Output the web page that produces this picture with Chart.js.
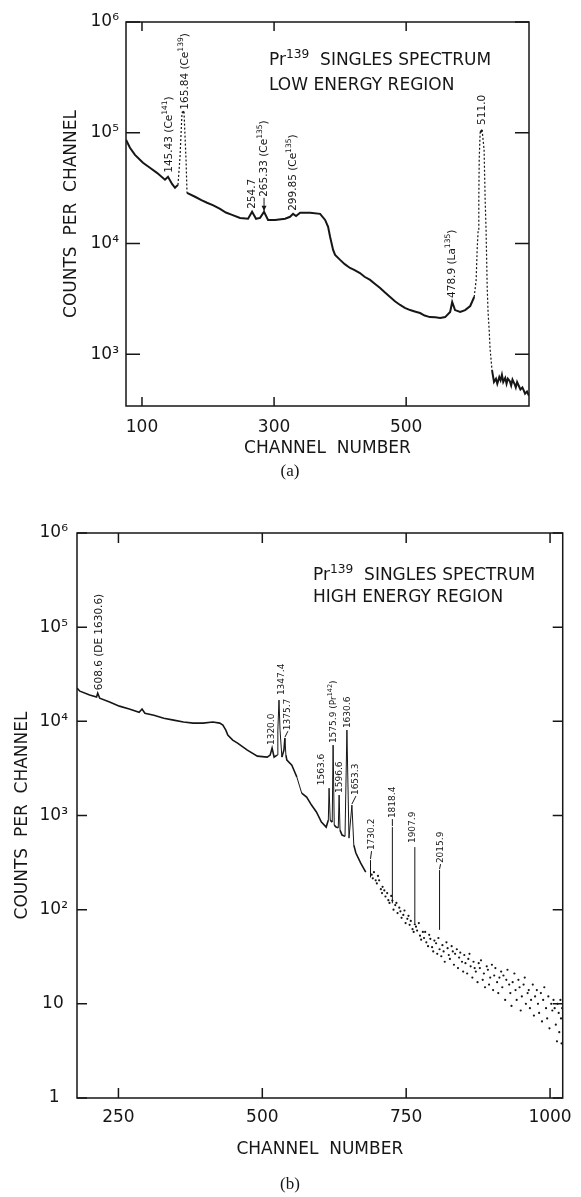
<!DOCTYPE html>
<html>
<head>
<meta charset="utf-8">
<script src="https://cdn.jsdelivr.net/npm/chart.js@4.4.1/dist/chart.umd.min.js"></script>
<style>
  html, body { margin: 0; padding: 0; background: #fff; }
  #wrap { position: relative; width: 581px; height: 1197px; }
  #cA { position: absolute; left: 0; top: 0; }
  #cB { position: absolute; left: 0; top: 490px; }
</style>
</head>
<body>
<div id="wrap">
  <canvas id="cA" width="581" height="490"></canvas>
  <canvas id="cB" width="581" height="707"></canvas>
</div>
<script>
// ---- (a) low energy region ----
const chA = [75.8, 81.8, 89.4, 101.5, 112, 122.7, 134.8, 139.4, 145.5, 150, 154.5, 157.6, 160.6, 163.6, 166.7, 168.2,
  180.3, 190, 198.5, 208, 218.2, 227, 236.4, 248.5, 260.6, 266.7, 272.7, 278.8, 284.8, 290.9, 301.5, 316.7, 324.2,
  328.8, 333.3, 339.4, 354.5, 369.7, 377.3, 381.8, 384.8, 389.4, 392.4, 400, 407, 415, 422, 430, 437, 445.4, 452,
  460.6, 468, 475.7, 483, 490.9, 498, 506, 513, 521, 528, 536, 544, 551.5, 559, 566.6, 569.7, 574, 581.8, 589.3,
  597, 603, 606, 607.5, 609, 610, 610.6, 612, 615, 618, 619.6, 621, 622.7, 624, 625.7, 627, 630, 633, 636, 638,
  641, 643, 645, 647, 650, 652, 654, 657, 659, 661, 664, 666, 668, 671, 673, 676, 678, 680, 683, 686];
const ctA = [86500, 73100, 63100, 53500, 48200, 43400, 37600, 40000, 34500, 31800, 33800, 60700, 152000, 155000, 57000, 28600,
  26400, 24600, 23300, 22100, 20500, 19000, 18100, 17000, 16700, 19300, 16700, 17000, 19300, 16300, 16300, 16700, 17400,
  18500, 17700, 18900, 18900, 18500, 16300, 14100, 11500, 8740, 7870, 7100, 6500, 6000, 5750, 5400, 5000, 4680, 4350,
  3960, 3600, 3280, 3000, 2780, 2620, 2500, 2430, 2350, 2230, 2160, 2150, 2120, 2160, 2400, 2960, 2500, 2400, 2500,
  2720, 3280, 4680, 8740, 13200, 24800, 57000, 100000, 106000, 70200, 24800, 13200, 4040, 2400, 1650, 1130, 716, 560, 600, 540,
  620, 580, 650, 560, 610, 540, 600, 570, 520, 590, 540, 500, 560, 510, 480, 500, 470, 440, 460, 420];

const peakChA = [139.4, 163.6, 266.7, 284.8, 328.8, 569.7, 615];
const peakCtA = [40000, 155000, 19300, 19300, 18500, 2960, 106000];
const peakTextA = ['145.43 (Ce^{141})', '165.84 (Ce^{139})', '254.7', '265.33 (Ce^{135})', '299.85 (Ce^{135})', '478.9 (La^{135})', '511.0'];

const xTicksA = [100, 300, 500];
const yTicksA = [1e3, 1e4, 1e5, 1e6];
const yLabelsA = ['10³', '10⁴', '10⁵', '10⁶'];

// ---- (b) high energy region ----
const chB = [178, 183, 200, 212, 214, 217.5, 234.6, 251.7, 268.8, 286, 291, 296, 311.6, 328.8, 345.9, 363, 380, 397, 414, 426,
  431.5, 436.6, 440, 448.6, 457, 474, 491.4, 508.5, 513.6, 517, 520.5, 525.6, 527, 529, 530.8, 534, 537.6, 539.3, 541, 542.7,
  551.3, 560, 568.4, 577, 585.5, 594, 602.7, 611, 614.7, 616, 618, 621.5, 623, 625, 628, 632, 633.5, 635, 638.6, 643.7,
  647, 650.6, 655.7, 659, 662.6, 671, 679.7];
const ctB = [22500, 20900, 19000, 18100, 19900, 17600, 16000, 14500, 13500, 12500, 13500, 12200, 11600, 10800, 10300, 9820, 9580, 9580, 9820, 9580,
  9120, 8070, 7140, 6310, 5870, 4950, 4270, 4170, 4380, 5200, 4170, 4380, 8070, 16800, 8070, 4170, 4950, 6630, 4380, 3870,
  3430, 2560, 1730, 1570, 1290, 1090, 851, 753, 893, 1950, 893, 851, 5590, 791, 753, 740, 1650, 700, 620, 600,
  8070, 575, 1290, 485, 400, 312, 250];

const spikeChB = [688, 726, 765, 808];
const spikeTopB = [336, 753, 462, 263];
const spikeBaseB = [220, 117, 72, 61];

const tailChB = [690, 692, 694, 697, 699, 701, 703, 706, 708, 709, 712, 714, 717, 719, 721, 724, 726, 728, 731, 733,
  735, 738, 740, 742, 745, 747, 749, 752, 754, 756, 758, 761, 763, 765, 767, 769, 772, 774, 776, 779,
  781, 783, 785, 788, 790, 792, 795, 797, 799, 802, 804, 806, 808, 811, 813, 815, 817, 820, 822, 824,
  826, 829, 831, 833, 835, 838, 840, 842, 844, 847, 849, 851, 853, 856, 858, 860, 862, 865, 867, 869,
  871, 874, 876, 878, 880, 883, 885, 887, 890, 892, 894, 896, 899, 901, 903, 905, 908, 910, 912, 915,
  917, 919, 922, 924, 926, 929, 931, 933, 935, 938, 940, 942, 945, 947, 949, 951, 954, 956, 958, 961,
  963, 965, 967, 970, 972, 974, 977, 979, 981, 984, 986, 988, 990, 993, 995, 997, 999, 1002, 1004, 1006,
  1008, 1010, 1012, 1013, 1015, 1016, 1018, 1019, 1020, 1021];
const tailCtB = [235, 215, 250, 205, 190, 228, 205, 165, 150, 175, 160, 138, 150, 126, 118, 140, 125, 100, 112, 118,
  92, 105, 96, 82, 88, 98, 72, 80, 86, 69, 76, 62, 58, 70, 66, 60, 72, 53, 48, 58,
  50, 58, 45, 41, 54, 49, 40, 36, 47, 44, 34, 50, 38, 32, 42, 36, 28, 45, 39, 33,
  30, 41, 36, 26, 34, 38, 24, 31, 35, 28, 22, 33, 27, 21, 30, 34, 25, 19, 28, 24,
  22, 17, 27, 24, 29, 18, 21, 15, 25, 23, 16, 19, 26, 14, 20, 24, 17, 13, 19, 22,
  15, 20, 11, 18, 23, 16, 13, 9.5, 17, 21, 14, 11, 18, 15, 8.5, 12, 16, 19, 10, 13,
  14, 9, 11, 16, 7.5, 12, 14, 10, 8, 13, 6.5, 11, 15, 9, 7, 12, 5.5, 10, 8.5, 11,
  9, 6, 4, 10, 8, 5, 11, 7, 3.8, 9];

const peakChB = [214, 517, 529, 539.3, 616, 623, 633.5, 647, 655.7, 688, 726, 765, 808];
const peakCtB = [19900, 5200, 16800, 6630, 1950, 5590, 1650, 8070, 1290, 336, 753, 462, 263];
const peakTextB = ['608.6 (DE 1630.6)', '1320.0', '1347.4', '1375.7', '1563.6', '1575.9 (Pr^{142})', '1596.6',
  '1630.6', '1653.3', '1730.2', '1818.4', '1907.9', '2015.9'];

const xTicksB = [250, 500, 750, 1000];
const yTicksB = [1, 10, 1e2, 1e3, 1e4, 1e5, 1e6];
const yLabelsB = ['1\u2002', '10\u2005', '10²', '10³', '10⁴', '10⁵', '10⁶'];

const ink = '#161616';
const sans = '"DejaVu Sans", sans-serif';

// text with ^{...} superscripts, drawn from (x0, y0) along the current x direction
function richText(ctx, str, size, x0, y0) {
  const parts = [];
  const re = /\^\{([^}]*)\}/g;
  let last = 0, m;
  while ((m = re.exec(str))) {
    if (m.index > last) parts.push([str.slice(last, m.index), false]);
    parts.push([m[1], true]);
    last = re.lastIndex;
  }
  if (last < str.length) parts.push([str.slice(last), false]);
  let x = x0;
  parts.forEach(([t, sup]) => {
    ctx.font = (sup ? size * 0.72 : size) + 'px ' + sans;
    ctx.fillText(t, x, sup ? y0 - size * 0.42 : y0);
    x += ctx.measureText(t).width;
  });
}

function decorations(cfg) {
  return {
    id: 'decor',
    afterDatasetsDraw(chart) {
      const { ctx, chartArea: a, scales: { x, y } } = chart;
      ctx.save();
      ctx.strokeStyle = ink;
      ctx.fillStyle = ink;
      ctx.lineWidth = 1.5;
      ctx.strokeRect(a.left, a.top, a.right - a.left, a.bottom - a.top);
      ctx.beginPath();
      cfg.xTicks.forEach(v => {
        const px = x.getPixelForValue(v);
        ctx.moveTo(px, a.bottom); ctx.lineTo(px, a.bottom - cfg.xLen);
        ctx.moveTo(px, a.top); ctx.lineTo(px, a.top + cfg.xLen);
      });
      cfg.yTicks.forEach(v => {
        const py = y.getPixelForValue(v);
        ctx.moveTo(a.left, py); ctx.lineTo(a.left + cfg.yLen, py);
        ctx.moveTo(a.right, py); ctx.lineTo(a.right - cfg.yLen, py);
      });
      ctx.stroke();

      // rotated peak labels
      ctx.textAlign = 'left';
      ctx.textBaseline = 'middle';
      cfg.peakCh.forEach((c, i) => {
        const px = x.getPixelForValue(c);
        const py = y.getPixelForValue(cfg.peakCt[i]);
        const gap = cfg.gap[i];
        const lx = px + cfg.dx[i];
        if (gap >= 7) {
          ctx.lineWidth = 1;
          ctx.beginPath();
          ctx.moveTo(px, py - 1);
          ctx.lineTo(lx, py - gap + 1);
          ctx.stroke();
        }
        if (gap >= 12) {
          ctx.beginPath();
          ctx.moveTo(px - 2.5, py - 6);
          ctx.lineTo(px + 2.5, py - 6);
          ctx.lineTo(px, py - 1);
          ctx.closePath();
          ctx.fill();
        }
        ctx.save();
        ctx.translate(lx, py - gap);
        ctx.rotate(-Math.PI / 2);
        richText(ctx, cfg.peakText[i], cfg.size[i], 0, 0);
        ctx.restore();
      });

      // in-plot title
      ctx.textBaseline = 'alphabetic';
      cfg.title.forEach((t, i) => richText(ctx, t, 17, a.left + cfg.titleX, a.top + cfg.titleY[i]));

      // panel caption
      ctx.font = '17px "Liberation Serif", serif';
      ctx.textAlign = 'center';
      ctx.textBaseline = 'middle';
      ctx.fillText(cfg.caption, cfg.capX, cfg.capY);
      ctx.restore();
    }
  };
}

function steepSeg(lim, dash, width) {
  const steep = c => Math.abs(Math.log10(c.p1.parsed.y / c.p0.parsed.y)) > lim;
  return {
    borderDash: c => steep(c) ? dash : undefined,
    borderWidth: c => steep(c) ? width : undefined
  };
}

function xAxis(min, max, ticks, height, pad, titlePad) {
  return {
    type: 'linear', min: min, max: max,
    afterBuildTicks: s => { s.ticks = ticks.map(v => ({ value: v })); },
    afterFit: s => { s.height = height; },
    grid: { display: false, drawTicks: false }, border: { display: false },
    ticks: {
      padding: pad, color: ink, font: { family: sans, size: 17 }, maxRotation: 0, autoSkip: false,
      callback: v => String(v)
    },
    title: { display: true, text: 'CHANNEL  NUMBER', color: ink, font: { family: sans, size: 17 }, padding: { top: 0, bottom: titlePad } }
  };
}

function yAxis(min, max, ticks, labels, width, pad, titlePad) {
  return {
    type: 'logarithmic', min: min, max: max,
    afterBuildTicks: s => { s.ticks = ticks.map(v => ({ value: v })); },
    afterFit: s => { s.width = width; },
    grid: { display: false, drawTicks: false }, border: { display: false },
    ticks: {
      padding: pad, color: ink, font: { family: sans, size: 17 }, autoSkip: false,
      callback: v => labels[ticks.indexOf(v)] ?? ''
    },
    title: { display: true, text: 'COUNTS  PER  CHANNEL', color: ink, font: { family: sans, size: 17 }, padding: { top: titlePad, bottom: 0 } }
  };
}

const common = {
  responsive: false, animation: false, events: [],
  plugins: { legend: { display: false }, tooltip: { enabled: false } }
};

new Chart(document.getElementById('cA'), {
  type: 'scatter',
  data: {
    datasets: [{
      data: chA.map((c, i) => ({ x: c, y: ctA[i] })),
      showLine: true, pointRadius: 0, borderColor: ink, borderWidth: 2,
      segment: steepSeg(0.12, [2, 2], 1.2)
    }]
  },
  options: {
    ...common,
    layout: { padding: { left: 0, top: 22, right: 52, bottom: 0 } },
    scales: {
      x: xAxis(75.8, 686, xTicksA, 84, 11, 31),
      y: yAxis(340, 1e6, yTicksA, yLabelsA, 126, 7, 61)
    }
  },
  plugins: [decorations({
    xTicks: xTicksA, yTicks: yTicksA, xLen: 9, yLen: 14,
    peakCh: peakChA, peakCt: peakCtA, peakText: peakTextA,
    gap: [4, 2, 3, 15, 3, 4, 5], dx: [1, 1, 0, 0, 0, 0, 0], size: [10.5, 10.5, 10.5, 10.5, 10.5, 10.5, 10.5],
    title: ['Pr^{139}  SINGLES SPECTRUM', 'LOW ENERGY REGION'], titleX: 143, titleY: [43, 68],
    caption: '(a)', capX: 290, capY: 472
  })]
});

new Chart(document.getElementById('cB'), {
  type: 'scatter',
  data: {
    datasets: [{
      data: chB.map((c, i) => ({ x: c, y: ctB[i] })),
      showLine: true, pointRadius: 0, borderColor: ink, borderWidth: 1.6,
      segment: steepSeg(0.15, [], 1)
    }, {
      data: spikeChB.flatMap((c, i) => [{ x: c, y: spikeBaseB[i] }, { x: c, y: spikeTopB[i] }, { x: c, y: null }]),
      showLine: true, spanGaps: false, pointRadius: 0, borderColor: ink, borderWidth: 1
    }, {
      data: tailChB.map((c, i) => ({ x: c, y: tailCtB[i] })),
      pointRadius: 1.1, pointBorderWidth: 0, pointBackgroundColor: ink
    }]
  },
  options: {
    ...common,
    layout: { padding: { left: 0, top: 43, right: 12, bottom: 0 } },
    scales: {
      x: xAxis(178, 1022, xTicksB, 99, 9, 37),
      y: yAxis(1, 1e6, yTicksB, yLabelsB, 77, 9, 12)
    }
  },
  plugins: [decorations({
    xTicks: xTicksB, yTicks: yTicksB, xLen: 10, yLen: 10,
    peakCh: peakChB, peakCt: peakCtB, peakText: peakTextB,
    gap: [3, 3, 5, 8, 3, 2, 2, 2, 10, 10, 9, 4, 7], dx: [2, 0, 3, 3, -7, 1, 1, 1, 4, 1, 0, -2, 1],
    size: [10.5, 9, 9, 9, 9, 9, 9, 9, 9, 9, 9, 9, 9],
    title: ['Pr^{139}  SINGLES SPECTRUM', 'HIGH ENERGY REGION'], titleX: 236, titleY: [47, 69],
    caption: '(b)', capX: 290, capY: 695
  })]
});
</script>
</body>
</html>
